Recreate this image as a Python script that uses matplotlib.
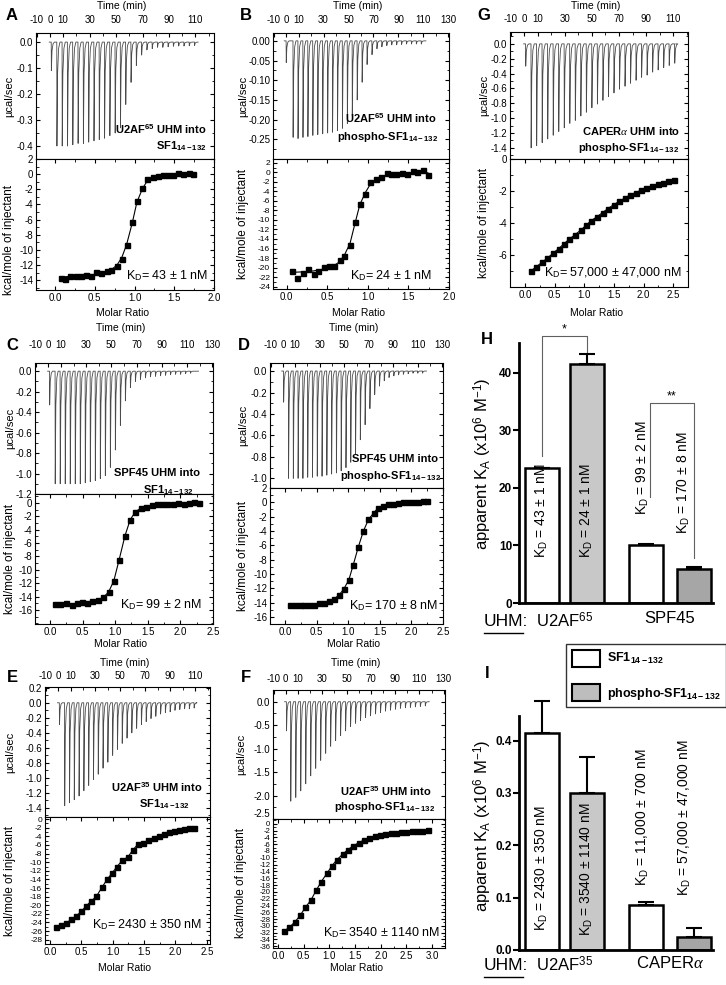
import numpy as np
import matplotlib.pyplot as plt
from matplotlib.ticker import MultipleLocator, FormatStrFormatter, FixedLocator
from matplotlib.lines import Line2D
from matplotlib.patches import Patch

SANS = ['Liberation Sans', 'DejaVu Sans']
plt.rcParams['font.family'] = SANS
plt.rcParams['mathtext.fontset'] = 'custom'
plt.rcParams['mathtext.rm'] = 'Liberation Sans'
plt.rcParams['mathtext.bf'] = 'Liberation Sans:bold'
plt.rcParams['mathtext.it'] = 'Liberation Serif:italic'
plt.rcParams['axes.unicode_minus'] = False
plt.rcParams['axes.linewidth'] = 0.8

# ---------------- ITC data ----------------
# thermogram peak depths (ucal/sec) of the main injections
a_peaks = [-0.40, -0.40, -0.40, -0.395, -0.39, -0.39, -0.385, -0.38, -0.375, -0.37, -0.36, -0.35, -0.33,
           -0.24, -0.155, -0.09, -0.05, -0.03, -0.025, -0.02, -0.02, -0.018, -0.016, -0.015, -0.015, -0.014, -0.013]
b_peaks = [-0.245, -0.248, -0.245, -0.243, -0.24, -0.238, -0.236, -0.234, -0.232, -0.228, -0.222, -0.21, -0.19,
           -0.15, -0.105, -0.06, -0.035, -0.02, -0.015, -0.012, -0.01, -0.01, -0.009, -0.008, -0.008, -0.008, -0.008]
g_peaks = [-1.40, -1.37, -1.33, -1.28, -1.23, -1.18, -1.13, -1.07, -1.03, -0.97, -0.92, -0.86, -0.81, -0.76,
           -0.71, -0.66, -0.61, -0.57, -0.53, -0.49, -0.45, -0.42, -0.38, -0.35, -0.32, -0.29, -0.26]
c_peaks = [-1.10, -1.10, -1.10, -1.10, -1.10, -1.10, -1.09, -1.08, -1.07, -1.05, -1.02, -0.94, -0.77, -0.53,
           -0.29, -0.16, -0.10, -0.08, -0.065, -0.055, -0.05, -0.045, -0.04, -0.035, -0.03, -0.03, -0.025, -0.02]
d_peaks = [-1.0, -1.0, -1.0, -1.0, -0.99, -0.99, -0.98, -0.98, -0.97, -0.96, -0.95, -0.93, -0.90, -0.85, -0.77,
           -0.64, -0.50, -0.35, -0.22, -0.14, -0.09, -0.06, -0.045, -0.035, -0.03, -0.025, -0.02, -0.02, -0.02]
e_peaks = [-1.37, -1.33, -1.29, -1.24, -1.17, -1.10, -1.02, -0.95, -0.87, -0.79, -0.70, -0.62, -0.54, -0.47,
           -0.40, -0.34, -0.29, -0.25, -0.21, -0.18, -0.15, -0.13, -0.12, -0.10, -0.09, -0.08, -0.08, -0.07]
f_peaks = [-2.12, -2.04, -1.90, -1.75, -1.58, -1.42, -1.25, -1.10, -0.95, -0.83, -0.72, -0.62, -0.53, -0.46,
           -0.40, -0.34, -0.30, -0.26, -0.23, -0.20, -0.18, -0.16, -0.14, -0.13, -0.12, -0.11, -0.10, -0.09]

# integrated heats (kcal/mole of injectant) vs molar ratio
a_mr = [0.07, 0.13, 0.19, 0.26, 0.32, 0.39, 0.45, 0.52, 0.58, 0.65, 0.71, 0.78, 0.84, 0.90, 0.97, 1.03,
        1.10, 1.16, 1.23, 1.29, 1.36, 1.42, 1.48, 1.55, 1.61, 1.68, 1.74]
a_heat = [-13.75, -13.85, -13.45, -13.5, -13.45, -13.35, -13.45, -12.95, -13.1, -12.8, -12.7, -12.1, -11.2,
          -9.4, -6.3, -3.6, -1.8, -0.7, -0.4, -0.2, -0.05, -0.15, -0.1, 0.1, 0.0, 0.15, 0.0]
a_fit = [-13.6, -13.55, -13.5, -13.45, -13.4, -13.35, -13.3, -13.2, -13.05, -12.9, -12.6, -12.0, -11.0,
         -9.3, -6.5, -3.7, -1.9, -0.9, -0.45, -0.25, -0.15, -0.1, -0.07, -0.05, -0.04, -0.03, -0.03]

b_mr = [0.07, 0.13, 0.20, 0.26, 0.33, 0.39, 0.46, 0.52, 0.58, 0.65, 0.71, 0.78, 0.84, 0.90, 0.97, 1.03,
        1.10, 1.16, 1.23, 1.29, 1.35, 1.42, 1.48, 1.55, 1.61, 1.68, 1.74]
b_heat = [-20.8, -22.1, -21.2, -20.4, -21.3, -20.8, -19.8, -19.7, -19.7, -18.4, -17.5, -15.2, -10.5, -6.6,
          -4.5, -2.1, -1.3, -0.9, -0.2, -0.4, -0.3, -0.1, -0.3, 0.2, 0.0, 0.5, -0.5]
b_fit = [-21.0, -20.95, -20.9, -20.8, -20.7, -20.5, -20.3, -20.0, -19.6, -18.8, -17.4, -14.9, -10.8, -6.8,
         -4.2, -2.5, -1.5, -0.9, -0.6, -0.4, -0.3, -0.25, -0.2, -0.15, -0.12, -0.1, -0.1]

g_mr = [0.10, 0.19, 0.29, 0.38, 0.47, 0.57, 0.66, 0.75, 0.84, 0.94, 1.03, 1.12, 1.22, 1.31, 1.40, 1.50,
        1.59, 1.68, 1.77, 1.87, 1.96, 2.05, 2.15, 2.24, 2.33, 2.42, 2.52]
g_heat = [-7.0, -6.75, -6.45, -6.2, -5.9, -5.6, -5.3, -5.0, -4.75, -4.45, -4.15, -3.85, -3.6, -3.35, -3.1,
          -2.85, -2.65, -2.45, -2.25, -2.1, -1.95, -1.8, -1.68, -1.57, -1.47, -1.37, -1.3]

c_mr = [0.08, 0.16, 0.24, 0.33, 0.41, 0.49, 0.57, 0.65, 0.74, 0.82, 0.90, 0.98, 1.06, 1.15, 1.23, 1.31,
        1.39, 1.47, 1.56, 1.64, 1.72, 1.80, 1.88, 1.97, 2.05, 2.13, 2.21, 2.29]
c_heat = [-15.1, -15.1, -14.9, -15.2, -15.0, -14.8, -14.9, -14.7, -14.5, -14.1, -13.3, -11.6, -8.5, -4.9,
          -2.5, -1.3, -0.8, -0.6, -0.3, -0.1, -0.1, -0.1, -0.1, -0.05, -0.1, 0.0, 0.1, 0.05]

d_mr = [0.07, 0.15, 0.23, 0.30, 0.38, 0.46, 0.54, 0.62, 0.69, 0.77, 0.85, 0.93, 1.01, 1.08, 1.16, 1.24,
        1.32, 1.40, 1.47, 1.55, 1.63, 1.71, 1.79, 1.86, 1.94, 2.02, 2.10, 2.18, 2.25]
d_heat = [-14.4, -14.4, -14.4, -14.4, -14.3, -14.3, -14.1, -14.0, -13.8, -13.5, -13.0, -12.1, -10.8, -8.7,
          -6.2, -4.0, -2.4, -1.5, -0.8, -0.5, -0.3, -0.2, -0.1, 0.0, 0.05, 0.1, 0.1, 0.2, 0.15]

e_mr = [0.09, 0.17, 0.25, 0.34, 0.42, 0.50, 0.58, 0.66, 0.74, 0.83, 0.91, 0.99, 1.07, 1.15, 1.24, 1.32,
        1.40, 1.48, 1.56, 1.65, 1.73, 1.81, 1.89, 1.97, 2.06, 2.14, 2.22, 2.30]
e_heat = [-25.0, -24.7, -24.2, -23.3, -22.5, -21.4, -20.1, -19.0, -17.9, -15.8, -14.0, -12.5, -11.0, -9.6,
          -8.8, -7.2, -5.8, -5.6, -4.9, -4.3, -3.9, -3.4, -3.0, -2.7, -2.5, -2.2, -2.0, -1.95]

f_mr = [0.12, 0.22, 0.33, 0.43, 0.53, 0.64, 0.74, 0.84, 0.95, 1.05, 1.15, 1.26, 1.36, 1.46, 1.57, 1.67,
        1.77, 1.88, 1.98, 2.08, 2.19, 2.29, 2.39, 2.50, 2.60, 2.70, 2.81, 2.91]
f_heat = [-31.5, -30.4, -28.8, -26.9, -24.6, -22.4, -19.6, -17.0, -14.6, -12.3, -10.5, -8.9, -7.6, -6.5,
          -5.6, -4.8, -4.2, -3.7, -3.4, -3.0, -2.8, -2.6, -2.4, -2.3, -2.2, -2.1, -2.0, -1.9]

# ---------------- bar chart data ----------------
h_ka = [23.5, 41.5, 10.1, 5.9]
h_err = [0.0, 1.8, 0.2, 0.3]
h_kd = ['43 ± 1', '24 ± 1', '99 ± 2', '170 ± 8']
h_groups = [r'U2AF$^{\mathrm{65}}$', 'SPF45']

i_ka = [0.415, 0.300, 0.086, 0.025]
i_err = [0.060, 0.068, 0.005, 0.017]
i_kd = ['2430 ± 350', '3540 ± 1140', '11,000 ± 700', '57,000 ± 47,000']
i_groups = [r'U2AF$^{\mathrm{35}}$', r'CAPER$\alpha$']

time_ticks = [-10, 0, 10, 30, 50, 70, 90, 110, 130]
SUB = r'$\mathbf{SF1_{14-132}}$'

W, H = 726, 985
fig = plt.figure(figsize=(W / 100, H / 100), dpi=100)


def box(l, t, r, b):
    return fig.add_axes([l / W, 1 - b / H, (r - l) / W, (b - t) / H])


def ftext(x, y, s, **kw):
    kw.setdefault('ha', 'center')
    kw.setdefault('va', 'center')
    return fig.text(x / W, 1 - y / H, s, **kw)


def kd_str(v):
    return r'K$_{\mathrm{D}}$= ' + v + ' nM'


def itc(l, t, m, r, b, tlim, ytop, yt_top, fmt_top, mtop, xlim, ybot, yt_bot,
        peaks, small, t_small, t_first, dt, t_end, mr, heat, fit=None,
        tpad=6, mpad=2.5, ybl=7, ylab_x=9, time_y=6, molar_y=313, kcal_y=None):
    top = box(l, t, r, m)
    bot = box(l, m, r, b)
    # thermogram
    times = [t_small] + [t_first + i * dt for i in range(len(peaks))]
    depth = [small] + list(peaks)
    tt, yy = [t_small - 1.5], [0.0]
    for ti, di in zip(times, depth):
        tt += [ti, ti + 0.12, ti + 0.6, ti + 1.4, ti + 2.4]
        yy += [0.0, di, 0.3 * di, 0.06 * di, 0.0]
    tt.append(t_end)
    yy.append(0.0)
    top.plot(tt, yy, color='#4a4a4a', lw=0.6)
    top.set_xlim(tlim)
    top.set_ylim(ytop)
    top.xaxis.tick_top()
    top.set_xticks([v for v in time_ticks if tlim[0] <= v <= tlim[1]])
    top.xaxis.set_minor_locator(FixedLocator([20, 40, 60, 80, 100, 120]))
    top.set_yticks(yt_top)
    top.yaxis.set_major_formatter(FormatStrFormatter(fmt_top))
    top.yaxis.set_minor_locator(MultipleLocator(mtop))
    top.tick_params(which='both', direction='in', right=True, labelsize=7)
    top.tick_params(axis='x', which='both', bottom=False, pad=tpad)
    top.tick_params(which='major', length=3)
    top.tick_params(which='minor', length=1.8)
    top.tick_params(axis='y', pad=2)

    # integrated heats
    line = fit if fit is not None else heat
    bot.plot(mr, line, color='k', lw=0.8)
    bot.plot(mr, heat, 's', color='k', ms=3.6)
    bot.set_xlim(xlim)
    bot.set_ylim(ybot)
    bot.xaxis.set_major_locator(MultipleLocator(0.5))
    bot.xaxis.set_minor_locator(MultipleLocator(0.25))
    bot.xaxis.set_major_formatter(FormatStrFormatter('%.1f'))
    bot.set_yticks(yt_bot)
    bot.yaxis.set_minor_locator(MultipleLocator(1))
    bot.tick_params(which='both', direction='in', top=True, right=True)
    bot.tick_params(which='major', length=3)
    bot.tick_params(which='minor', length=1.8)
    bot.tick_params(axis='x', labelsize=7, pad=mpad)
    bot.tick_params(axis='y', labelsize=ybl, pad=2)

    cx = (l + r) / 2
    ftext(cx - 3, time_y, 'Time (min)', fontsize=7.5)
    ftext(cx - 3, molar_y, 'Molar Ratio', fontsize=7.5)
    ftext(ylab_x, (t + m) / 2, 'µcal/sec', rotation=90, fontsize=8)
    ftext(ylab_x, kcal_y if kcal_y else (m + b) / 2, 'kcal/mole of injectant',
          rotation=90, fontsize=8.5)
    return top, bot


# ---- row 1 ----
itc(36, 33, 159, 214, 290, (-10.5, 124), (-0.45, 0.035), [0, -0.1, -0.2, -0.3, -0.4], '%.1f', 0.05,
    (-0.24, 2.0), (-15.3, 2), list(range(2, -15, -2)),
    a_peaks, -0.11, 1.0, 5.2, 4.0, 112, a_mr, a_heat, a_fit,
    tpad=6, ylab_x=9, time_y=6, molar_y=313, kcal_y=240)
itc(273, 33, 159, 449, 289, (-10.5, 130.5), (-0.30, 0.02), [0, -0.05, -0.10, -0.15, -0.20, -0.25], '%.2f', 0.025,
    (-0.17, 2.0), (-24.5, 2.8), list(range(2, -25, -2)),
    b_peaks, -0.055, 0.0, 5.5, 3.95, 112, b_mr, b_heat, b_fit,
    tpad=6, ybl=6, ylab_x=243, time_y=6, molar_y=313)
itc(510, 32, 159, 688, 287, (-10.5, 121), (-1.55, 0.16), [0, -0.2, -0.4, -0.6, -0.8, -1.0, -1.2, -1.4], '%.1f', 0.1,
    (-0.25, 2.75), (-8, 0), [0, -2, -4, -6],
    g_peaks, -0.30, 1.0, 5.0, 4.08, 112, g_mr, g_heat,
    tpad=6, ylab_x=484, time_y=6, molar_y=313)

# ---- row 2 ----
itc(35, 363, 494, 213, 624, (-10.5, 130.5), (-1.2, 0.08), [0, -0.2, -0.4, -0.6, -0.8, -1.0, -1.2], '%.1f', 0.1,
    (-0.23, 2.5), (-18.1, 1.35), list(range(0, -17, -2)),
    c_peaks, -0.33, 1.0, 5.4, 3.97, 119, c_mr, c_heat,
    tpad=9.5, ylab_x=10, time_y=328, molar_y=644)
itc(270, 363, 488, 443, 624, (-10.5, 130.5), (-1.09, 0.075), [0, -0.2, -0.4, -0.6, -0.8, -1.0], '%.1f', 0.1,
    (-0.24, 2.5), (-17, 2), list(range(2, -17, -2)),
    d_peaks, -0.29, 0.5, 4.5, 3.9, 117, d_mr, d_heat,
    tpad=9.5, ylab_x=243, time_y=328, molar_y=644)

# ---- row 3 ----
itc(45, 687, 817, 210, 944, (-10.5, 122), (-1.52, 0.21), [0.2, 0, -0.2, -0.4, -0.6, -0.8, -1.0, -1.2, -1.4], '%.1f', 0.1,
    (-0.08, 2.55), (-29, 0.5), list(range(0, -29, -2)),
    e_peaks, -0.29, 1.0, 5.2, 3.85, 111, e_mr, e_heat,
    tpad=4.5, ybl=6, ylab_x=10, time_y=663, molar_y=968)
f_top, f_bot = itc(273, 690, 819, 445, 948, (-10.5, 131), (-2.5, 0.25), [0, -0.5, -1.0, -1.5, -2.0, -2.5], '%.1f', 0.25,
                   (-0.1, 3.25), (-36.5, 1.4), list(range(0, -37, -2)),
                   f_peaks, -0.62, 0.5, 4.0, 4.1, 118, f_mr, f_heat,
                   tpad=4.5, ybl=5.5, ylab_x=241, time_y=663, molar_y=968)
f_top.get_yticklabels()[-1].set_verticalalignment('bottom')

# ---- thermogram annotations ----
TB = dict(fontsize=8, weight='bold')
ftext(207, 129, r'$\mathbf{U2AF^{65}}$ UHM into', ha='right', **TB)
ftext(181, 146, SUB, **TB)
ftext(437, 118, r'$\mathbf{U2AF^{65}}$ UHM into', ha='right', **TB)
ftext(438, 137, 'phospho-' + SUB, ha='right', **TB)
ftext(680, 131, r'CAPER$\alpha$ UHM into', ha='right', **TB)
ftext(679, 148, 'phospho-' + SUB, ha='right', **TB)
ftext(200, 473, 'SPF45 UHM into', ha='right', **TB)
ftext(168, 490, SUB, **TB)
ftext(438, 459, 'SPF45 UHM into', ha='right', **TB)
ftext(441, 476, 'phospho-' + SUB, ha='right', **TB)
ftext(203, 787, r'$\mathbf{U2AF^{35}}$ UHM into', ha='right', **TB)
ftext(164, 804, SUB, **TB)
ftext(432, 791, r'$\mathbf{U2AF^{35}}$ UHM into', ha='right', **TB)
ftext(435, 807, 'phospho-' + SUB, ha='right', **TB)

for x, y, v in [(208, 276, '43 ± 1'), (432, 276, '24 ± 1'), (682, 273, '57,000 ± 47,000'),
                (202, 605, '99 ± 2'), (438, 606, '170 ± 8'), (202, 925, '2430 ± 350'),
                (440, 933, '3540 ± 1140')]:
    ftext(x, y, kd_str(v), ha='right', fontsize=9)

for x, y, s in [(12, 15, 'A'), (246, 15, 'B'), (484, 15, 'G'), (12, 345, 'C'), (244, 345, 'D'),
                (487, 340, 'H'), (12, 677, 'E'), (246, 677, 'F'), (487, 673, 'I')]:
    ftext(x, y, s, fontsize=12, weight='bold')

# ---------------- bar charts ----------------
bar_pos = [0, 1, 2.31, 3.37]
bar_fill = ['white', '#c8c8c8', 'white', '#a6a6a6']


def bar_panel(l, t, r, b, vals, errs, ymax, yticks, fmt, kd, kd_y, kd_dx, groups, lab_y, xpad):
    ax = box(l, t, r, b)
    ax.bar(bar_pos, vals, width=0.76, color=bar_fill, edgecolor='k', linewidth=1.8, zorder=2)
    eb = ax.errorbar(bar_pos, vals, yerr=[[0] * len(vals), errs], fmt='none', ecolor='k',
                     elinewidth=1.5, capsize=6, capthick=1.5, zorder=3)
    for art in list(eb.lines[1]) + list(eb.lines[2]):
        art.set_clip_on(False)
    ax.set_xlim(-0.51, 3.8)
    ax.set_ylim(0, ymax)
    for s in ['top', 'right']:
        ax.spines[s].set_visible(False)
    for s in ['left', 'bottom']:
        ax.spines[s].set_linewidth(2)
    ax.set_yticks(yticks)
    ax.yaxis.set_major_formatter(FormatStrFormatter(fmt))
    ax.tick_params(axis='y', direction='out', length=4, width=1.5, labelsize=8.5, pad=1)
    for lb in ax.get_yticklabels():
        lb.set_fontweight('bold')
    ax.set_xticks([(bar_pos[0] + bar_pos[1]) / 2, (bar_pos[2] + bar_pos[3]) / 2])
    ax.set_xticklabels(groups, fontsize=12)
    ax.tick_params(axis='x', length=0, pad=xpad)
    for p, v, yk, dx in zip(bar_pos, kd, kd_y, kd_dx):
        ax.text(p + dx, yk, r'K$_{\mathrm{D}}$ = ' + v + ' nM', rotation=90, ha='center', va='center',
                fontsize=10)
    ax.set_ylabel(r'apparent K$_{\mathrm{A}}$ (x10$^{\mathrm{6}}$ M$^{\mathrm{-1}}$)', fontsize=12)
    ax.yaxis.label.set_va('center')
    ax.yaxis.set_label_coords((483 - l) / (r - l), (b - lab_y) / (b - t))
    return ax


axh = bar_panel(519, 343, 713, 603, h_ka, h_err, 45.2, [0, 10, 20, 30, 40], '%d',
                h_kd, [16, 16, 23.5, 21], [0, 0, -0.07, -0.22], h_groups, 464, 6)
axi = bar_panel(519, 716, 713, 950, i_ka, i_err, 0.447, [0, 0.1, 0.2, 0.3, 0.4], '%.1f',
                i_kd, [0.157, 0.155, 0.254, 0.252], [0, 0, -0.07, -0.2], i_groups, 826, 3.5)

# significance brackets in H
for x0, x1, y0, ytop, y1, lab in [(bar_pos[0], bar_pos[1], 25.5, 46.4, 43.6, '*'),
                                  (bar_pos[2] + 0.09, bar_pos[3], 18.5, 34.7, 7.8, '**')]:
    axh.plot([x0, x0, x1, x1], [y0, ytop, ytop, y1], color='#606060', lw=0.8, clip_on=False)
    axh.text((x0 + x1) / 2, ytop + 0.2, lab, ha='center', va='bottom', fontsize=9, clip_on=False)

# UHM: underlined labels
for y, yl in [(621, 633), (965, 977)]:
    ftext(506, y, 'UHM:', fontsize=12.5)
    fig.add_artist(Line2D([484 / W, 523 / W], [1 - yl / H, 1 - yl / H], color='k', lw=1.0))

# legend for the bar charts
handles = [Patch(facecolor='white', edgecolor='k', lw=1.5), Patch(facecolor='#bdbdbd', edgecolor='k', lw=1.5)]
leg = fig.legend(handles, [SUB, 'phospho-' + SUB], loc='upper left', bbox_to_anchor=(566 / W, 1 - 644 / H),
                 frameon=True, fancybox=False, edgecolor='k', prop=dict(weight='bold', size=9),
                 handlelength=2.25, handleheight=1.7, labelspacing=1.4, borderpad=0.45, handletextpad=0.55,
                 borderaxespad=0)
leg.get_frame().set_linewidth(1.0)

fig.savefig('out.png', dpi=100)
